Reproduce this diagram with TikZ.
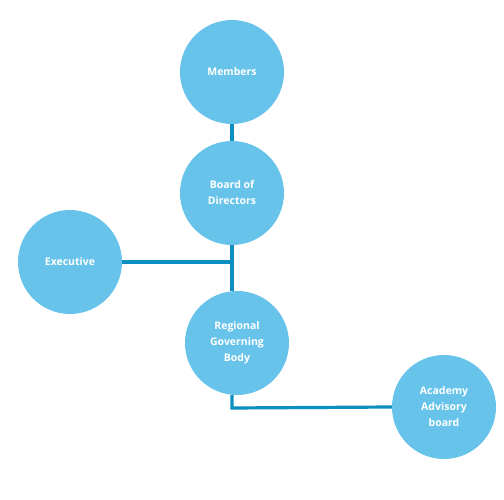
\documentclass[tikz,border=0pt]{standalone}
\usepackage{fontspec}
\setmainfont{Open Sans}
\definecolor{bubble}{HTML}{67C3EA}
\definecolor{wire}{HTML}{0A8FC0}
\begin{document}
\begin{tikzpicture}[x=1pt,y=-1pt,
  org/.style={circle,fill=bubble,minimum size=104pt,inner sep=0pt,
    align=center,text=white,font=\bfseries\fontsize{10.5}{16}\selectfont},
  link/.style={wire,line width=3.2pt}]
 \useasboundingbox (0,0) rectangle (504,500);
 \node[org] (mem) at (232,72) {Members};
 \node[org] (bod) at (232,193) {Board of\\Directors};
 \node[org] (exe) at (70,262) {Executive};
 \node[org] (rgb) at (237,343) {Regional\\Governing\\Body};
 \node[org] (aab) at (444,407) {Academy\\Advisory\\board};
 \coordinate (j) at (232,408);
 \draw[link] (mem) -- (bod);
 \draw[link] (bod.south) -- (bod.south |- rgb.north);
 \draw[link] (exe.east) -- (exe.east -| bod.south);
 \draw[link] (j |- rgb.south) -- (j) -- (aab.west);
\end{tikzpicture}
\end{document}
